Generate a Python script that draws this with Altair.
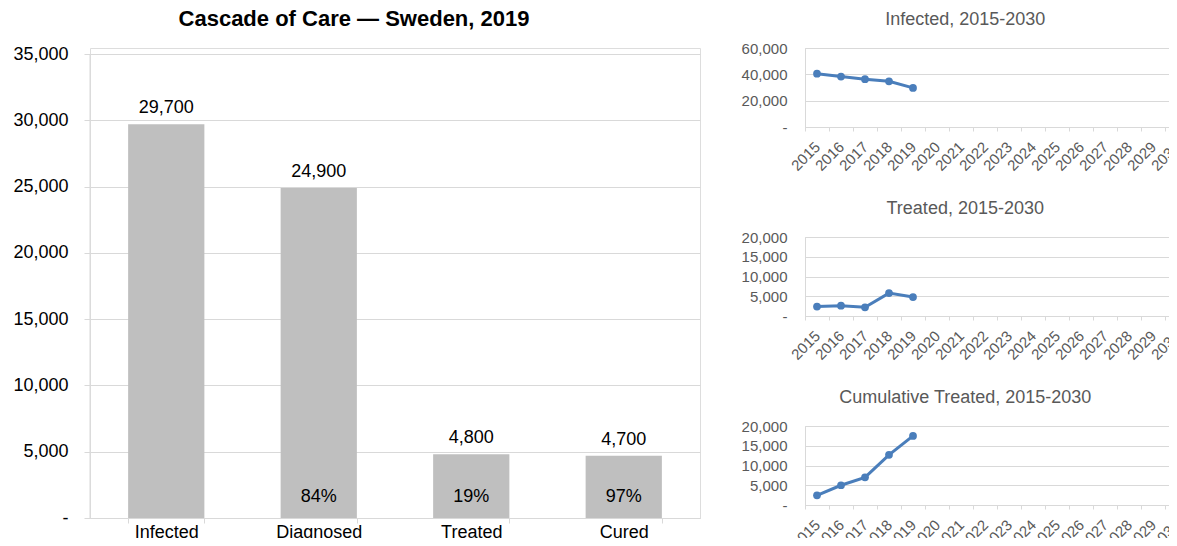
import altair as alt
import pandas as pd

FONT = "Liberation Sans"
BLUE = "#4A7EBB"
GRID = "#D9D9D9"
GRAY_TEXT = "#595959"

# ---- main cascade data ----
stages = ["Infected", "Diagnosed", "Treated", "Cured"]
stage_values = [29700, 24900, 4800, 4700]
value_labels = ["29,700", "24,900", "4,800", "4,700"]
pct_stages = ["Diagnosed", "Treated", "Cured"]
pct_labels = ["84%", "19%", "97%"]
main_y_ticks = [0, 5000, 10000, 15000, 20000, 25000, 30000, 35000]

# ---- trend data ----
all_years = ["2015", "2016", "2017", "2018", "2019", "2020", "2021", "2022",
             "2023", "2024", "2025", "2026", "2027", "2028", "2029", "2030"]
obs_years = ["2015", "2016", "2017", "2018", "2019"]
infected_trend = [40500, 38300, 36300, 34700, 29700]
treated_trend = [2400, 2600, 2200, 5800, 4800]
cumulative_trend = [2450, 5000, 7000, 12700, 17500]
infected_ticks = [0, 20000, 40000, 60000]
treated_ticks = [0, 5000, 10000, 15000, 20000]

zero_dash = "datum.value == 0 ? '-' : format(datum.value, ',')"

bar_df = pd.DataFrame({"stage": stages, "value": stage_values, "label": value_labels})
pct_df = pd.DataFrame({"stage": pct_stages, "pct": pct_labels})

MAIN_H = 470

x_main = alt.X(
    "stage:N", sort=stages, title=None,
    scale=alt.Scale(domain=stages, paddingInner=0.5, paddingOuter=0.25),
    axis=alt.Axis(labelAngle=0, labelFontSize=18, labelColor="#000000", labelFont=FONT,
                  labelPadding=0, tickBand="extent", tickSize=5, tickColor=GRID,
                  domainColor=GRID, grid=False),
)
y_main = alt.Y(
    "value:Q", title=None, scale=alt.Scale(domain=[0, 35000], range=[MAIN_H, 6]),
    axis=alt.Axis(values=main_y_ticks, labelExpr=zero_dash, labelFontSize=18,
                  labelColor="#000000", labelFont=FONT, labelPadding=16, tickSize=6,
                  tickColor=GRID, domain=False, gridColor=GRID, minExtent=82),
)

axis_line = alt.Chart(pd.DataFrame({"a": [0]})).mark_rule(color=GRID, strokeWidth=1).encode(
    x=alt.value(0),
    y=alt.datum(0, scale=alt.Scale(domain=[0, 35000], range=[MAIN_H, 6])),
    y2=alt.datum(35000),
)
bars = alt.Chart(bar_df).mark_bar(color="#BFBFBF").encode(x=x_main, y=y_main)
bar_text = alt.Chart(bar_df).mark_text(
    baseline="bottom", dy=-7, fontSize=18, font=FONT, color="#000000"
).encode(x=x_main, y=y_main, text="label:N")
pct_text = alt.Chart(pct_df).mark_text(
    baseline="middle", dy=-21, fontSize=18, font=FONT, color="#000000"
).encode(x=x_main, y=alt.datum(0), text="pct:N")

main = alt.layer(bars, bar_text, pct_text, axis_line).properties(
    width=610, height=MAIN_H,
    title=alt.TitleParams("Cascade of Care — Sweden, 2019", fontSize=22, fontWeight="bold",
                          font=FONT, color="#000000", anchor="middle", frame="bounds",
                          offset=14),
)


def small(title, values, ticks, ymax):
    df = pd.DataFrame({"year": obs_years, "value": values})
    x = alt.X(
        "year:N", title=None,
        scale=alt.Scale(type="band", domain=all_years, paddingInner=0, paddingOuter=0),
        axis=alt.Axis(labelAngle=-45, labelAlign="right", labelBaseline="middle",
                      labelFontSize=15, labelColor=GRAY_TEXT, labelFont=FONT,
                      tickBand="extent", tickSize=4, tickColor=GRID, domainColor=GRID,
                      labelPadding=13, grid=False),
    )
    y = alt.Y(
        "value:Q", title=None, scale=alt.Scale(domain=[0, ymax]),
        axis=alt.Axis(values=ticks, labelExpr=zero_dash, labelFontSize=15,
                      labelColor=GRAY_TEXT, labelFont=FONT, labelPadding=18, ticks=False,
                      domainColor=GRID, gridColor=GRID, minExtent=64),
    )
    line = alt.Chart(df).mark_line(
        color=BLUE, strokeWidth=3,
        point=alt.OverlayMarkDef(filled=True, size=60, color=BLUE),
    ).encode(x=x, y=y)
    return line.properties(
        width=384, height=79,
        title=alt.TitleParams(title, fontSize=18, font=FONT, color=GRAY_TEXT,
                              fontWeight="normal", anchor="middle", frame="bounds",
                              offset=12),
    )


s1 = small("Infected, 2015-2030", infected_trend, infected_ticks, 60000)
s2 = small("Treated, 2015-2030", treated_trend, treated_ticks, 20000)
s3 = small("Cumulative Treated, 2015-2030", cumulative_trend, treated_ticks, 20000)

right = alt.vconcat(s1, s2, s3, spacing=25)

chart = alt.hconcat(main, right, spacing=39).properties(
    autosize=alt.AutoSizeParams(type="none"),
    padding={"left": 82, "top": 40, "right": 1079, "bottom": 490},
).configure_view(strokeWidth=0).configure(background="white")

chart.save("out.html", embed_options={"renderer": "svg", "actions": False})
